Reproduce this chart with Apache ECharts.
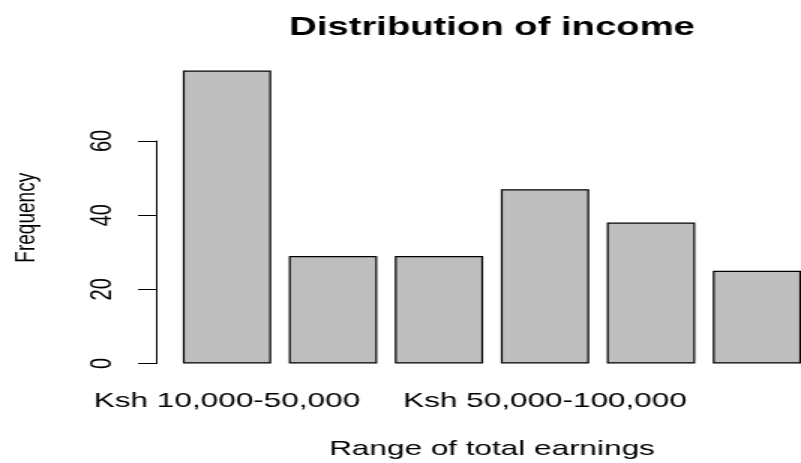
<!DOCTYPE html>
<html>
<head>
	<meta charset="utf-8">
	<title>Distribution of income</title>
	<script type="text/javascript" src="https://cdn.jsdelivr.net/npm/echarts@6/dist/echarts.min.js"></script>
	<style>
		html, body { margin: 0; padding: 0; overflow: hidden; background: #fff; }
		/* the original plot is stretched sideways, so draw narrow and widen it */
		#mychar { width: 534px; height: 463px; transform: scaleX(1.5); transform-origin: 0 0; }
	</style>
</head>
<body>
	<div id="mychar"></div>

	<script type="text/javascript">
		// income ranges (only the 1st and 4th fit as labels in the original)
		var categories = ['Ksh 10,000-50,000', 'Ksh 100,000-150,000', 'Ksh 150,000-200,000',
		                  'Ksh 50,000-100,000', 'Less than Ksh 10,000', 'Over Ksh 200,000'];
		var frequency = [79, 29, 29, 47, 38, 25];
		var yTicks = [0, 20, 40, 60];
		var shownLabels = [0, 3];

		var font = 'Liberation Sans, Arial, sans-serif';
		var mychar = echarts.init(document.getElementById('mychar'));
		var option = {
			animation: false,
			title: {
				text: 'Distribution of income',
				left: 323,
				top: 10,
				textAlign: 'center',
				textStyle: { fontFamily: font, fontSize: 25.5, fontWeight: 'bold', color: '#000' }
			},
			grid: {
				left: 116,
				right: -6,
				top: 141,
				bottom: 99.5,
				containLabel: false,
				outerBoundsMode: 'none'
			},
			xAxis: {
				type: 'category',
				data: categories,
				name: 'Range of total earnings',
				nameLocation: 'middle',
				nameGap: 75,
				nameMoveOverlap: false,
				nameTextStyle: { fontFamily: font, fontSize: 21, color: '#000' },
				axisLine: { show: false },
				axisTick: { show: false },
				axisLabel: {
					interval: function (index) { return shownLabels.indexOf(index) >= 0; },
					margin: 27,
					fontFamily: font,
					fontSize: 21,
					color: '#000'
				}
			},
			yAxis: {
				type: 'value',
				min: yTicks[0],
				max: yTicks[yTicks.length - 1],
				interval: yTicks[1] - yTicks[0],
				offset: 11.3,
				name: 'Frequency',
				nameLocation: 'middle',
				nameGap: 77,
				nameMoveOverlap: false,
				nameTextStyle: { fontFamily: font, fontSize: 19, color: '#000', padding: [0, 0, 0, 69] },
				axisLine: { show: true, lineStyle: { color: '#000', width: 1 } },
				axisTick: { show: true, length: 12.7, lineStyle: { color: '#000', width: 1 } },
				axisLabel: { rotate: 90, margin: 26, fontFamily: font, fontSize: 20, color: '#000' },
				splitLine: { show: false }
			},
			series: [
				{
					name: 'Frequency',
					type: 'bar',
					data: frequency,
					clip: false,
					barCategoryGap: '16.7%',
					itemStyle: { color: '#bebebe', borderColor: '#000', borderWidth: 1.2 }
				}
			]
		};

		mychar.setOption(option);
	</script>
</body>
</html>
